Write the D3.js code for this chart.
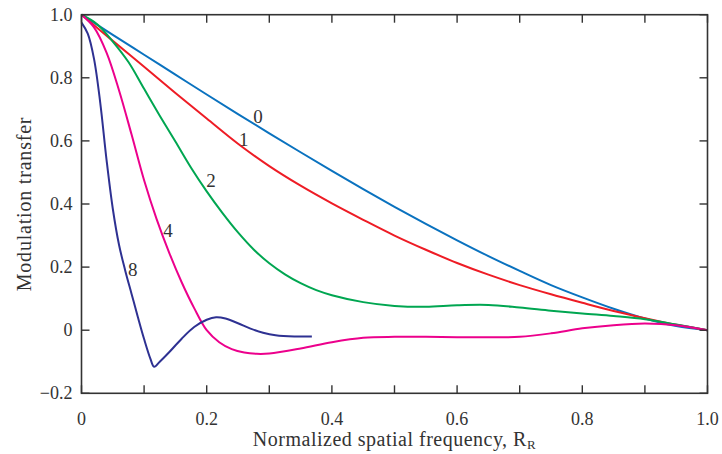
<!DOCTYPE html>
<html>
<head>
<meta charset="utf-8">
<script src="https://cdn.jsdelivr.net/npm/d3@7"></script>
<style>
  html, body { margin: 0; padding: 0; background: #fff; }
  svg { display: block; }
  text { font-family: "Liberation Serif", "DejaVu Serif", serif; fill: #333; }
</style>
</head>
<body>
<svg id="chart" width="722" height="454"></svg>
<script>
// Modulation transfer vs normalized spatial frequency for several defocus values
const defocusLabels = ["0", "1", "2", "4", "8"];
const colors = ["#0a72bf", "#ee1c25", "#00a651", "#ec008c", "#2e3192"];

const freq0 = [0, 0.05, 0.1, 0.15, 0.2, 0.25, 0.3, 0.35, 0.4, 0.45, 0.5, 0.55, 0.6, 0.65, 0.7, 0.75, 0.8, 0.85, 0.9, 0.95, 1.0];
const mtf0  = [1.0, 0.936, 0.873, 0.810, 0.747, 0.685, 0.624, 0.564, 0.505, 0.447, 0.391, 0.337, 0.285, 0.235, 0.188, 0.143, 0.104, 0.068, 0.037, 0.013, 0.0];

const freq1 = [0, 0.05, 0.1, 0.15, 0.2, 0.25, 0.3, 0.35, 0.4, 0.45, 0.5, 0.55, 0.6, 0.65, 0.7, 0.75, 0.8, 0.85, 0.9, 0.95, 1.0];
const mtf1  = [1.0, 0.917, 0.835, 0.752, 0.671, 0.591, 0.520, 0.458, 0.402, 0.350, 0.300, 0.255, 0.213, 0.176, 0.143, 0.114, 0.087, 0.061, 0.038, 0.017, 0.0];

const freq2 = [0, 0.025, 0.05, 0.075, 0.1, 0.125, 0.15, 0.175, 0.2, 0.225, 0.25, 0.275, 0.3, 0.325, 0.35, 0.375, 0.4, 0.45, 0.5, 0.55, 0.6, 0.65, 0.7, 0.75, 0.8, 0.85, 0.9, 0.95, 1.0];
const mtf2  = [1.0, 0.97, 0.915, 0.85, 0.765, 0.68, 0.598, 0.515, 0.44, 0.372, 0.31, 0.256, 0.212, 0.177, 0.149, 0.127, 0.111, 0.089, 0.077, 0.074, 0.079, 0.080, 0.072, 0.062, 0.053, 0.045, 0.035, 0.018, 0.0];

const freq4 = [0, 0.02, 0.04, 0.06, 0.08, 0.1, 0.12, 0.14, 0.16, 0.18, 0.2, 0.22, 0.24, 0.26, 0.28, 0.3, 0.35, 0.4, 0.45, 0.5, 0.55, 0.6, 0.65, 0.7, 0.75, 0.8, 0.85, 0.9, 0.95, 1.0];
const mtf4  = [1.0, 0.96, 0.88, 0.76, 0.62, 0.475, 0.352, 0.246, 0.152, 0.07, 0.0, -0.038, -0.06, -0.071, -0.075, -0.074, -0.058, -0.038, -0.024, -0.021, -0.021, -0.022, -0.022, -0.021, -0.01, 0.006, 0.016, 0.021, 0.016, 0.0];

const freq8 = [0, 0.01, 0.02, 0.03, 0.04, 0.05, 0.06, 0.07, 0.08, 0.09, 0.1, 0.11, 0.116, 0.125, 0.14, 0.16, 0.18, 0.2, 0.215, 0.23, 0.25, 0.27, 0.29, 0.31, 0.34, 0.368];
const mtf8  = [0.975, 0.94, 0.86, 0.72, 0.54, 0.385, 0.27, 0.188, 0.115, 0.042, -0.028, -0.09, -0.116, -0.1, -0.07, -0.027, 0.01, 0.033, 0.041, 0.037, 0.022, 0.005, -0.008, -0.016, -0.02, -0.02];

const freqs = [freq0, freq1, freq2, freq4, freq8];
const mtfs = [mtf0, mtf1, mtf2, mtf4, mtf8];

// curve label anchor points (data coordinates)
const labelFreq = [0.282, 0.259, 0.207, 0.138, 0.082];
const labelMtf  = [0.677, 0.604, 0.473, 0.317, 0.191];

const xTicks = [0, 0.1, 0.2, 0.3, 0.4, 0.5, 0.6, 0.7, 0.8, 0.9, 1.0];
const xTickLabels = [0, 0.2, 0.4, 0.6, 0.8, 1.0];
const yTicks = [-0.2, 0, 0.2, 0.4, 0.6, 0.8, 1.0];

const svg = d3.select("#chart");
const plotL = 81.5, plotR = 707.5, plotT = 14.7, plotB = 393.3;

const x = d3.scaleLinear().domain([0, 1]).range([plotL, plotR]);
const y = d3.scaleLinear().domain([-0.2, 1.0]).range([plotB, plotT]);

const fmt = v => v === 0 ? "0" : (v < 0 ? "\u2212" + Math.abs(v).toFixed(1) : v.toFixed(1));

// curves
const line = d3.line().x(d => x(d[0])).y(d => y(d[1])).curve(d3.curveCatmullRom.alpha(0.5));
freqs.forEach((f, i) => {
  const pts = f.map((v, j) => [v, mtfs[i][j]]);
  svg.append("path")
    .attr("d", line(pts))
    .attr("fill", "none")
    .attr("stroke", colors[i])
    .attr("stroke-width", 2)
    .attr("stroke-linejoin", "round");
});

// frame with inward ticks on all four sides
const axisColor = "#333";
const tickLen = 8;
const g = svg.append("g");
g.append("rect")
  .attr("x", plotL).attr("y", plotT)
  .attr("width", plotR - plotL).attr("height", plotB - plotT)
  .attr("fill", "none").attr("stroke", axisColor).attr("stroke-width", 1.6);

xTicks.forEach(t => {
  g.append("line").attr("x1", x(t)).attr("x2", x(t)).attr("y1", plotB).attr("y2", plotB - tickLen)
    .attr("stroke", axisColor).attr("stroke-width", 1.4);
  g.append("line").attr("x1", x(t)).attr("x2", x(t)).attr("y1", plotT).attr("y2", plotT + tickLen)
    .attr("stroke", axisColor).attr("stroke-width", 1.4);
});
yTicks.forEach(t => {
  g.append("line").attr("x1", plotL).attr("x2", plotL + tickLen).attr("y1", y(t)).attr("y2", y(t))
    .attr("stroke", axisColor).attr("stroke-width", 1.4);
  g.append("line").attr("x1", plotR).attr("x2", plotR - tickLen).attr("y1", y(t)).attr("y2", y(t))
    .attr("stroke", axisColor).attr("stroke-width", 1.4);
});

// tick labels
xTickLabels.forEach(t => {
  svg.append("text")
    .attr("x", x(t)).attr("y", plotB + 32)
    .attr("text-anchor", "middle")
    .attr("font-size", 18)
    .text(fmt(t));
});
yTicks.forEach(t => {
  svg.append("text")
    .attr("x", plotL - 9).attr("y", y(t) + 6)
    .attr("text-anchor", "end")
    .attr("font-size", 18)
    .text(fmt(t));
});

// axis titles
const xt = svg.append("text")
  .attr("x", (plotL + plotR) / 2).attr("y", 446)
  .attr("text-anchor", "middle")
  .attr("font-size", 20)
  .attr("letter-spacing", 0.5);
xt.append("tspan").text("Normalized spatial frequency, R");
xt.append("tspan").attr("font-size", 13).attr("dy", 3).text("R");

svg.append("text")
  .attr("transform", `translate(31, ${(plotT + plotB) / 2}) rotate(-90)`)
  .attr("text-anchor", "middle")
  .attr("font-size", 20)
  .attr("letter-spacing", 0.8)
  .text("Modulation transfer");

// curve labels
defocusLabels.forEach((lab, i) => {
  svg.append("text")
    .attr("x", x(labelFreq[i])).attr("y", y(labelMtf[i]) + 6.5)
    .attr("text-anchor", "middle")
    .attr("font-size", 19)
    .text(lab);
});
</script>
</body>
</html>
